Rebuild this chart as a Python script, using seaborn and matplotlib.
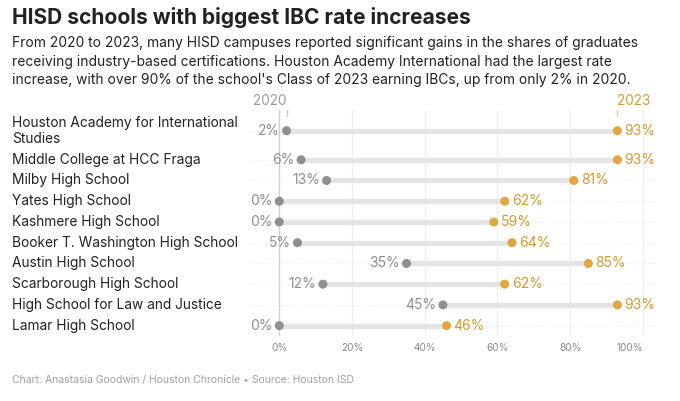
import numpy as np
import matplotlib
matplotlib.use("Agg")
import matplotlib.pyplot as plt
import matplotlib.transforms as mtrans
import seaborn as sns

schools = [
    "Houston Academy for International\nStudies",
    "Middle College at HCC Fraga",
    "Milby High School",
    "Yates High School",
    "Kashmere High School",
    "Booker T. Washington High School",
    "Austin High School",
    "Scarborough High School",
    "High School for Law and Justice",
    "Lamar High School",
]
rate_2020 = [2, 6, 13, 0, 0, 5, 35, 12, 45, 0]
rate_2023 = [93, 93, 81, 62, 59, 64, 85, 62, 93, 46]
x_ticks = [0, 20, 40, 60, 80, 100]

GRAY = "#8f8f8f"
GOLD = "#e2a63e"
GOLD_TXT = "#d49a30"
BAR = "#e4e4e4"

sns.set_theme(style="white")
plt.rcParams["font.family"] = ["Inter", "DejaVu Sans"]

# row centres: two-line labels get a taller band
ypos = []
y = 0.0
for name in schools:
    h = 1.0 + 0.8 * name.count("\n")
    ypos.append(y + h / 2)
    y += h

fig = plt.figure(figsize=(6.8, 4.01), dpi=100)
ax = fig.add_axes([248 / 680, 1 - 336 / 401, 408 / 680, 226 / 401])
ax.set_xlim(-8.6, 103.6)
ax.set_ylim(ypos[-1] + 0.5, ypos[0] - 1.0)

for t in x_ticks:
    ax.axvline(t, color="#d0d0d0" if t == 0 else "#ececec", lw=1.0 if t == 0 else 0.8, zorder=0)
for yy in ypos:
    ax.axhline(yy, color="#e6e6e6", lw=0.7, ls=(0, (1, 2)), zorder=0)

ax.hlines(ypos, rate_2020, rate_2023, color=BAR, lw=3.8, zorder=1)
sns.scatterplot(x=rate_2020, y=ypos, ax=ax, color=GRAY, s=42, edgecolor="none", zorder=3)
sns.scatterplot(x=rate_2023, y=ypos, ax=ax, color=GOLD, s=42, edgecolor="none", zorder=3)

for a, b, yy in zip(rate_2020, rate_2023, ypos):
    ax.text(a - 1.9, yy, f"{a}%", ha="right", va="center", color=GRAY, fontsize=10)
    ax.text(b + 1.9, yy, f"{b}%", ha="left", va="center", color=GOLD_TXT, fontsize=10)

# column headers above the first row
ax.plot([rate_2020[0]] * 2, [ypos[0] - 1.0, ypos[0] - 0.7], color="#cccccc", lw=1, clip_on=False)
ax.plot([rate_2023[0]] * 2, [ypos[0] - 1.0, ypos[0] - 0.7], color="#e8cf9c", lw=1, clip_on=False)
ax.text(rate_2020[0], ypos[0] - 1.45, "2020", ha="right", va="center", color="#999999", fontsize=9.8, clip_on=False)
ax.text(rate_2023[0], ypos[0] - 1.45, "2023", ha="left", va="center", color=GOLD_TXT, fontsize=9.8, clip_on=False)

ax.set_xticks(x_ticks)
ax.set_xticklabels([f"{t}%" for t in x_ticks], color="#888888", fontsize=7.2)
ax.get_xticklabels()[-1].set_ha("right")
ax.get_xticklabels()[-1].set_x(104)
ax.tick_params(axis="x", length=0, pad=5)
ax.set_yticks([])
for sp in ax.spines.values():
    sp.set_visible(False)

# school names on the left
trans = mtrans.blended_transform_factory(fig.transFigure, ax.transData)
for name, yy in zip(schools, ypos):
    ax.text(12 / 680, yy, name, transform=trans, ha="left", va="center",
            color="#222222", fontsize=9.9, linespacing=1.15)

fig.text(12 / 680, 1 - 17 / 401, "HISD schools with biggest IBC rate increases",
         fontsize=15.1, fontweight="bold", color="#222222", va="center")
subtitle = [
    "From 2020 to 2023, many HISD campuses reported significant gains in the shares of graduates",
    "receiving industry-based certifications. Houston Academy International had the largest rate",
    "increase, with over 90% of the school's Class of 2023 earning IBCs, up from only 2% in 2020.",
]
for i, line in enumerate(subtitle):
    fig.text(12 / 680, 1 - (43.5 + 18.3 * i) / 401, line, fontsize=9.95, color="#222222", va="center")
fig.text(12 / 680, 1 - 380 / 401, "Chart: Anastasia Goodwin / Houston Chronicle \u2022 Source: Houston ISD",
         fontsize=7.5, color="#a0a0a0", va="center")

fig.savefig("out.png", dpi=100)
